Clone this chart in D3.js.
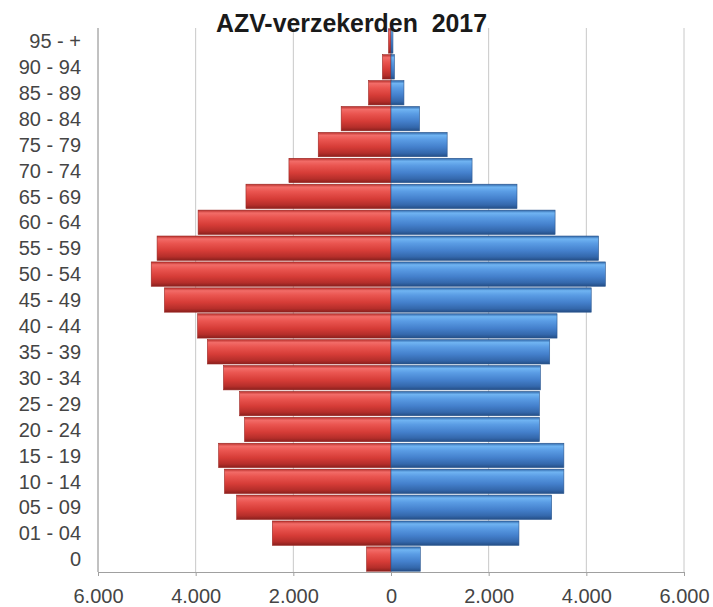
<!DOCTYPE html>
<html><head><meta charset="utf-8">
<script src="https://cdn.jsdelivr.net/npm/d3@7"></script>
<style>body{margin:0;background:#fff}svg{display:block}</style>
</head><body>
<script>
const categories = ["95 - +","90 - 94","85 - 89","80 - 84","75 - 79","70 - 74","65 - 69","60 - 64","55 - 59","50 - 54","45 - 49","40 - 44","35 - 39","30 - 34","25 - 29","20 - 24","15 - 19","10 - 14","05 - 09","01 - 04","0"];
const leftValues  = [50,175,460,1020,1490,2090,2970,3950,4790,4910,4640,3960,3760,3430,3100,3000,3530,3410,3160,2430,500];
const rightValues = [40,70,265,585,1150,1660,2580,3360,4250,4390,4100,3400,3250,3060,3040,3040,3540,3540,3290,2620,600];
const xTicks = [-6000,-4000,-2000,0,2000,4000,6000];
const title = "AZV-verzekerden\u00a0\u00a02017";

const W = 713, H = 607;
const svg = d3.select("body").append("svg").attr("width", W).attr("height", H);
const defs = svg.append("defs");
function grad(id, stops){
  const g = defs.append("linearGradient").attr("id", id).attr("x1",0).attr("y1",0).attr("x2",0).attr("y2",1);
  stops.forEach(s => g.append("stop").attr("offset", s[0]).attr("stop-color", s[1]));
}
grad("gRed", [[0,"#b8302c"],[0.12,"#f26c68"],[0.3,"#ea5550"],[0.6,"#d63c37"],[0.85,"#b52e2a"],[1,"#8a201d"]]);
grad("gBlue", [[0,"#2f66a8"],[0.12,"#70b4f2"],[0.3,"#5a9ce4"],[0.6,"#4480cc"],[0.85,"#3468ac"],[1,"#244e86"]]);

const x = d3.scaleLinear().domain([-6000, 6000]).range([98, 684]);
const y = d3.scaleBand().domain(categories).range([28, 572]).paddingInner(0.06).paddingOuter(0.03);

// gridlines
svg.append("g").selectAll("line").data(xTicks).join("line")
  .attr("x1", d => x(d)).attr("x2", d => x(d)).attr("y1", 28).attr("y2", 572)
  .attr("stroke", "#c8c8c8").attr("stroke-width", 1);

// x axis
const xAxis = d3.axisBottom(x).tickValues(xTicks).tickSize(4)
  .tickFormat(d => d3.format(",")(Math.abs(d)).replace(/,/g, "."));
const gx = svg.append("g").attr("transform", "translate(0,572)").call(xAxis);
gx.select(".domain").attr("stroke", "#a0a0a0");
gx.selectAll(".tick line").attr("stroke", "#a0a0a0");
gx.selectAll("text").attr("font-family", "Liberation Sans, Arial, sans-serif").attr("font-size", 20)
  .attr("fill", "#454545").attr("y", 31).attr("dy", null);

// y axis line
svg.append("line").attr("x1", 98).attr("x2", 98).attr("y1", 28).attr("y2", 572).attr("stroke", "#a0a0a0");

// bars
const rows = categories.map((c, i) => ({c, l: leftValues[i], r: rightValues[i]}));
svg.append("g").selectAll("rect").data(rows).join("rect")
  .attr("x", d => x(-d.l)).attr("width", d => x(0) - x(-d.l))
  .attr("y", d => y(d.c)).attr("height", y.bandwidth())
  .attr("fill", "url(#gRed)").attr("stroke", "#9a2622").attr("stroke-width", 0.6);
svg.append("g").selectAll("rect").data(rows).join("rect")
  .attr("x", x(0)).attr("width", d => x(d.r) - x(0))
  .attr("y", d => y(d.c)).attr("height", y.bandwidth())
  .attr("fill", "url(#gBlue)").attr("stroke", "#2a568e").attr("stroke-width", 0.6);

// y labels
const yAxis = d3.axisLeft(y).tickSize(0).tickPadding(0);
const gy = svg.append("g").attr("transform", "translate(81,0)").call(yAxis);
gy.select(".domain").remove();
gy.selectAll("text").attr("font-family", "Liberation Sans, Arial, sans-serif").attr("font-size", 20)
  .attr("fill", "#454545").attr("dy", "0.36em");

// title
svg.append("text").attr("x", 216).attr("y", 32).text(title)
  .attr("font-family", "Liberation Sans, Arial, sans-serif").attr("font-weight", "bold")
  .attr("font-size", 25).attr("fill", "#1a1a1a")
  .attr("textLength", 271).attr("lengthAdjust", "spacingAndGlyphs");
</script>
</body></html>
